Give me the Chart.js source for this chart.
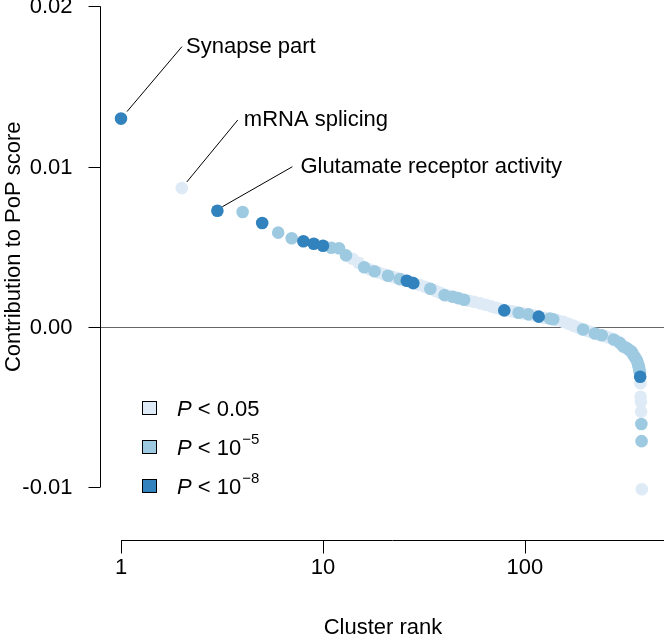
<!DOCTYPE html>
<html>
<head>
<meta charset="utf-8">
<script src="https://cdn.jsdelivr.net/npm/chart.js@4"></script>
<style>
  html, body { margin: 0; padding: 0; background: #fff; }
  #wrap { width: 664px; height: 639px; }
</style>
</head>
<body>
<div id="wrap"><canvas id="chart" width="664" height="639"></canvas></div>
<script>
// Cluster rank / contribution, split by significance level
const ranksDark = [1, 3, 5, 8, 9, 10, 26, 28, 79, 117, 372];
const valuesDark = [0.0130, 0.00725, 0.00648, 0.00534, 0.00519, 0.00506, 0.00288, 0.00273, 0.00103, 0.00064, -0.00311];

const ranksMid = [4, 6, 7, 11, 12, 13, 16, 18, 21, 24, 34, 40, 44, 47, 50, 93, 104, 133, 138,
  194, 222, 240, 275, 295, 307, 320, 331, 338, 344, 351, 357, 361, 364, 366, 368, 370, 371, 377, 378];
const valuesMid = [0.00717, 0.00588, 0.00553, 0.00494, 0.00491, 0.00446, 0.00372, 0.00347, 0.00319, 0.00298,
  0.00238, 0.00198, 0.00188, 0.00179, 0.00169, 0.00088, 0.00078, 0.00052, 0.00048,
  -0.00016, -0.00041, -0.00052, -0.00079, -0.00100, -0.00122, -0.00134, -0.00147, -0.00156, -0.00175,
  -0.00191, -0.00206, -0.00222, -0.00238, -0.00250, -0.00263, -0.00278, -0.00288, -0.00606, -0.00713];

const ranksLight = [2, 14, 15, 17, 19, 20, 22, 23, 25, 27, 30, 32, 36, 38, 42, 46, 53, 56, 60, 64, 68, 72, 76,
  84, 88, 98, 110, 125, 145, 155, 165, 175, 185, 200, 210, 230, 250, 260, 285, 300, 315, 325,
  373, 374, 375, 376, 379];
const valuesLight = [0.00867, 0.00425, 0.00400, 0.00359, 0.00338, 0.00328, 0.00313, 0.00306, 0.00294, 0.00281,
  0.00263, 0.00250, 0.00225, 0.00213, 0.00194, 0.00183, 0.00163, 0.00156, 0.00147, 0.00138, 0.00128,
  0.00119, 0.00109, 0.00100, 0.00095, 0.00084, 0.00072, 0.00056, 0.00041, 0.00031, 0.00019, 0.00006,
  -0.00006, -0.00022, -0.00031, -0.00047, -0.00059, -0.00066, -0.00088, -0.00109, -0.00128, -0.00139,
  -0.00352, -0.00436, -0.00467, -0.00529, -0.01013];

const yTicks = [0.02, 0.01, 0, -0.01];
const yTickLabels = ['0.02', '0.01', '0.00', '-0.01'];
const xTicks = [1, 10, 100];
const xTickLabels = ['1', '10', '100'];

const annotRanks = [1, 2, 3];
const annotLabels = ['Synapse part', 'mRNA splicing', 'Glutamate receptor activity'];

const legendLabels = ['0.05', '10', '10'];
const legendExps = ['', '\u22125', '\u22128'];

const colLight = '#deebf7';
const colMid = '#9ecae1';
const colDark = '#3182bd';
const FONT = '"Liberation Sans", Arial, Helvetica, sans-serif';
const FS = 22;

function pts(r, v) { return r.map((x, i) => ({ x: x, y: v[i] })); }

const allRanks = ranksDark.concat(ranksMid, ranksLight);
const allValues = valuesDark.concat(valuesMid, valuesLight);

// annotation leader geometry (pixel offsets from the point)
const annotGeom = [
  { sx: 6, sy: -7, ex: 61, ey: -72, tx: 65, ty: -72 },
  { sx: 5, sy: -6, ex: 56, ey: -68, tx: 62, ty: -68 },
  { sx: 5, sy: -4, ex: 75, ey: -44, tx: 83, ty: -44 },
];

const rAxes = {
  id: 'rAxes',
  beforeDatasetsDraw(chart) {
    const { ctx, chartArea, scales: { y } } = chart;
    ctx.save();
    ctx.strokeStyle = '#666';
    ctx.lineWidth = 1;
    const y0 = Math.round(y.getPixelForValue(0)) + 0.5;
    ctx.beginPath();
    ctx.moveTo(chartArea.left, y0);
    ctx.lineTo(chartArea.right, y0);
    ctx.stroke();
    ctx.restore();
  },
  afterDraw(chart) {
    const { ctx, chartArea, scales: { x, y } } = chart;
    ctx.save();
    ctx.strokeStyle = '#000';
    ctx.fillStyle = '#000';
    ctx.lineWidth = 1;

    // y axis
    const ax = chartArea.left + 0.5;
    const yTop = y.getPixelForValue(yTicks[0]);
    const yBot = y.getPixelForValue(yTicks[yTicks.length - 1]);
    ctx.beginPath();
    ctx.moveTo(ax, yTop);
    ctx.lineTo(ax, yBot);
    yTicks.forEach(t => {
      const py = Math.round(y.getPixelForValue(t)) + 0.5;
      ctx.moveTo(ax, py);
      ctx.lineTo(ax - 12, py);
    });
    ctx.stroke();
    ctx.font = FS + 'px ' + FONT;
    ctx.textAlign = 'right';
    ctx.textBaseline = 'middle';
    yTicks.forEach((t, i) => {
      ctx.fillText(yTickLabels[i], ax - 28, y.getPixelForValue(t) + 1);
    });

    // x axis
    const ay = chartArea.bottom + 0.5;
    ctx.beginPath();
    ctx.moveTo(x.getPixelForValue(xTicks[0]), ay);
    ctx.lineTo(chartArea.right, ay);
    xTicks.forEach(t => {
      const px = Math.round(x.getPixelForValue(t)) + 0.5;
      ctx.moveTo(px, ay);
      ctx.lineTo(px, ay + 13);
    });
    ctx.stroke();
    ctx.textAlign = 'center';
    xTicks.forEach((t, i) => {
      ctx.fillText(xTickLabels[i], x.getPixelForValue(t), ay + 27);
    });

    // axis titles
    ctx.fillText('Cluster rank', 383, 628);
    ctx.save();
    ctx.translate(14, (yTop + yBot) / 2);
    ctx.rotate(-Math.PI / 2);
    ctx.fillText('Contribution to PoP score', 0, 0);
    ctx.restore();

    // annotations
    ctx.textAlign = 'left';
    annotRanks.forEach((r, i) => {
      const v = allValues[allRanks.indexOf(r)];
      const px = x.getPixelForValue(r);
      const py = y.getPixelForValue(v);
      const g = annotGeom[i];
      ctx.beginPath();
      ctx.moveTo(px + g.sx, py + g.sy);
      ctx.lineTo(px + g.ex, py + g.ey);
      ctx.stroke();
      ctx.fillText(annotLabels[i], px + g.tx, py + g.ty);
    });

    // legend
    const cols = [colLight, colMid, colDark];
    const ly = [408, 447, 486];
    cols.forEach((c, i) => {
      ctx.fillStyle = c;
      ctx.fillRect(142.5, ly[i] - 6.5, 14, 13);
      ctx.strokeStyle = '#000';
      ctx.strokeRect(142.5, ly[i] - 6.5, 14, 13);
      ctx.fillStyle = '#000';
      let tx = 177;
      const ty = ly[i] + 2;
      ctx.font = 'italic ' + FS + 'px ' + FONT;
      ctx.fillText('P', tx, ty);
      tx += ctx.measureText('P').width;
      ctx.font = FS + 'px ' + FONT;
      const s = ' < ' + legendLabels[i];
      ctx.fillText(s, tx, ty);
      tx += ctx.measureText(s).width;
      if (legendExps[i]) {
        ctx.font = '15px ' + FONT;
        ctx.fillText(legendExps[i], tx + 1, ty - 9);
      }
    });
    ctx.restore();
  }
};

new Chart(document.getElementById('chart'), {
  type: 'scatter',
  data: {
    datasets: [
      { label: 'P < 1e-8', data: pts(ranksDark, valuesDark), backgroundColor: colDark, order: 0 },
      { label: 'P < 1e-5', data: pts(ranksMid, valuesMid), backgroundColor: colMid, order: 1 },
      { label: 'P < 0.05', data: pts(ranksLight, valuesLight), backgroundColor: colLight, order: 2 },
    ]
  },
  options: {
    responsive: false,
    animation: false,
    devicePixelRatio: 1,
    layout: { autoPadding: false, padding: { left: 100, right: 0, top: 0, bottom: 99 } },
    elements: { point: { radius: 6.3, hoverRadius: 6.3, borderWidth: 0 } },
    plugins: { legend: { display: false }, tooltip: { enabled: false } },
    scales: {
      x: { type: 'logarithmic', min: 0.787, max: 488, display: false },
      y: { type: 'linear', min: -0.0133, max: 0.0204, display: false },
    }
  },
  plugins: [rAxes]
});
</script>
</body>
</html>
